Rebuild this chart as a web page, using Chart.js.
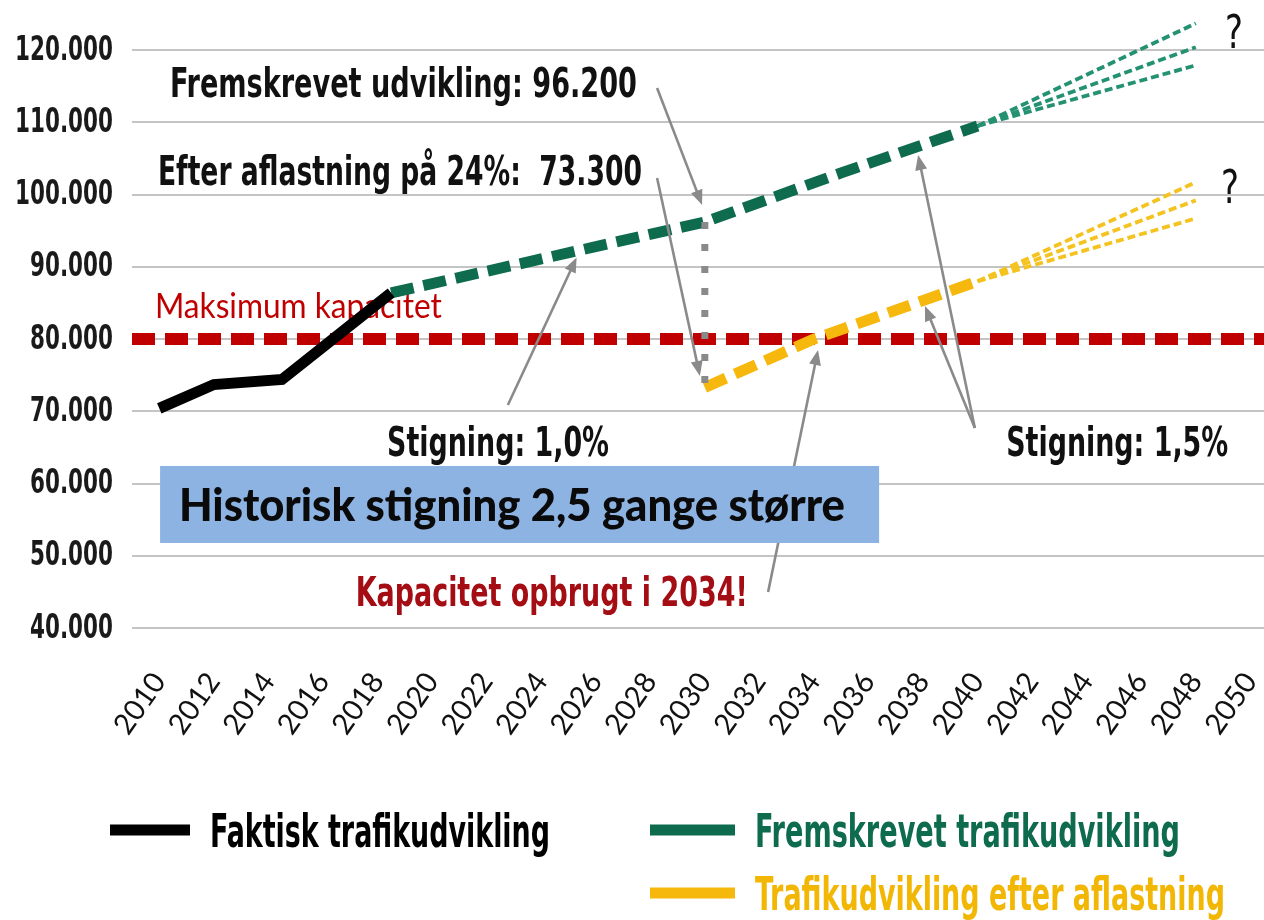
<!DOCTYPE html>
<html>
<head>
<meta charset="utf-8">
<script src="https://cdn.jsdelivr.net/npm/chart.js@4.4.1/dist/chart.umd.min.js"></script>
<style>
  html, body { margin: 0; padding: 0; background: #ffffff; }
  #wrap { position: relative; width: 1264px; height: 920px; }
  canvas { display: block; }
</style>
</head>
<body>
<div id="wrap"><canvas id="chart" width="1264" height="920"></canvas></div>
<script>
// ---------------- DATA ----------------
const seriesLabels = ['Faktisk trafikudvikling', 'Fremskrevet trafikudvikling', 'Trafikudvikling efter aflastning'];

const xTickYears = [2010, 2012, 2014, 2016, 2018, 2020, 2022, 2024, 2026, 2028, 2030,
                    2032, 2034, 2036, 2038, 2040, 2042, 2044, 2046, 2048, 2050];
const yTickValues = [40000, 50000, 60000, 70000, 80000, 90000, 100000, 110000, 120000];

const factualYears  = [2010, 2012, 2014.5, 2018.5];
const factualValues = [70400, 73700, 74400, 86400];

const projectedYears  = [2018.5, 2030, 2035, 2040];
const projectedValues = [86400, 96200, 103000, 109500];

const relievedYears  = [2030, 2034, 2040];
const relievedValues = [73300, 80000, 88000];

const fanYears = [2040, 2048];
const projectedFanHigh = [109500, 123700];
const projectedFanMid  = [109500, 120400];
const projectedFanLow  = [109500, 117900];
const relievedFanHigh  = [88000, 101700];
const relievedFanMid   = [88000, 99200];
const relievedFanLow   = [88000, 96700];

const capacityYears  = [2009, 2050.5];
const capacityValues = [80000, 80000];

const reliefYears  = [2030, 2030];
const reliefValues = [96200, 73300];

// ---------------- STYLE ----------------
const NARROW = '"Liberation Sans Narrow", "Arial Narrow", "DejaVu Sans Condensed", sans-serif';
const COL_BLACK = '#000000';
const COL_GREEN = '#0f6b4d';
const COL_GREEN_FAN = '#249272';
const COL_YELLOW = '#f6b80d';
const COL_YELLOW_FAN = '#f4c320';
const COL_RED = '#c00000';
const COL_GRAY = '#8a8a8a';

function pts(xs, ys) { return xs.map((x, i) => ({ x: x, y: ys[i] })); }
function fmtThousands(v) { return Math.round(v / 1000) + '.000'; }

const datasets = [
  { label: seriesLabels[0], data: pts(factualYears, factualValues), borderColor: COL_BLACK, borderWidth: 11 },
  { label: 'relief', data: pts(reliefYears, reliefValues), borderColor: COL_GRAY, borderWidth: 7, borderDash: [7, 15] },
  { label: seriesLabels[1], data: pts(projectedYears, projectedValues), borderColor: COL_GREEN, borderWidth: 11, borderDash: [23, 10] },
  { label: seriesLabels[2], data: pts(relievedYears, relievedValues), borderColor: COL_YELLOW, borderWidth: 11, borderDash: [23, 10] },
  { label: 'pf1', data: pts(fanYears, projectedFanHigh), borderColor: COL_GREEN_FAN, borderWidth: 3.8, borderDash: [8, 4] },
  { label: 'pf2', data: pts(fanYears, projectedFanMid), borderColor: COL_GREEN_FAN, borderWidth: 3.8, borderDash: [8, 4] },
  { label: 'pf3', data: pts(fanYears, projectedFanLow), borderColor: COL_GREEN_FAN, borderWidth: 3.8, borderDash: [8, 4] },
  { label: 'rf1', data: pts(fanYears, relievedFanHigh), borderColor: COL_YELLOW_FAN, borderWidth: 3.8, borderDash: [8, 4] },
  { label: 'rf2', data: pts(fanYears, relievedFanMid), borderColor: COL_YELLOW_FAN, borderWidth: 3.8, borderDash: [8, 4] },
  { label: 'rf3', data: pts(fanYears, relievedFanLow), borderColor: COL_YELLOW_FAN, borderWidth: 3.8, borderDash: [8, 4] },
  { label: 'Maksimum kapacitet', data: pts(capacityYears, capacityValues), borderColor: COL_RED, borderWidth: 12, borderDash: [23, 10] }
];
datasets.forEach(d => { d.pointRadius = 0; d.tension = 0; d.fill = false; d.borderCapStyle = 'butt'; });

// ---------------- ANNOTATIONS (data coordinates) ----------------
const textNotes = [
  { text: 'Fremskrevet udvikling: 96.200', x: 2010.39, y: 113510, font: 'bold 40px ' + NARROW, color: '#111', width: 467 },
  { text: 'Efter aflastning på 24%:  73.300', x: 2009.95, y: 101330, font: 'bold 40px ' + NARROW, color: '#111', width: 484 },
  { text: 'Maksimum kapacitet', x: 2009.84, y: 82910, font: '35px Lato', color: '#c00000', width: 287 },
  { text: 'Stigning: 1,0%', x: 2018.35, y: 63810, font: 'bold 40px ' + NARROW, color: '#111', width: 222 },
  { text: 'Stigning: 1,5%', x: 2041.05, y: 63810, font: 'bold 40px ' + NARROW, color: '#111', width: 222 },
  { text: 'Kapacitet opbrugt i 2034!', x: 2017.2, y: 43040, font: 'bold 40px ' + NARROW, color: '#a50d14', width: 392 },
  { text: '?', x: 2049.4, y: 120290, font: '46px ' + NARROW, color: '#111', center: true, width: 18 },
  { text: '?', x: 2049.25, y: 98835, font: '46px ' + NARROW, color: '#111', center: true, width: 18 }
];
const arrows = [
  { x1: 2028.25, y1: 114760, x2: 2029.90, y2: 98560 },
  { x1: 2028.25, y1: 102300, x2: 2029.82, y2: 74890 },
  { x1: 2022.78, y1: 70870, x2: 2025.30, y2: 91300 },
  { x1: 2032.32, y1: 44980, x2: 2034.15, y2: 78480 },
  { x1: 2039.90, y1: 67690, x2: 2037.82, y2: 105480 },
  { x1: 2039.90, y1: 67690, x2: 2038.07, y2: 84580 }
];
const infoBox = { x1: 2010.03, x2: 2036.39, y1: 62430, y2: 51770, fill: '#8db3e2',
  text: 'Historisk stigning 2,5 gange større', tx: 2010.72, ty: 54810, font: '900 45px Lato', color: '#0a0a0a', width: 666 };

const yLabelStyle = { font: 'bold 33px ' + NARROW, color: '#1a1a1a', right: 113, sample: '120.000', sampleWidth: 98 };

const legendItems = [
  { label: seriesLabels[0], color: COL_BLACK, textColor: '#000000', sx: 110, sw: 80, sy: 830, tx: 210, tw: 340, ty: 847 },
  { label: seriesLabels[1], color: COL_GREEN, textColor: COL_GREEN, sx: 650, sw: 85, sy: 830, tx: 755, tw: 425, ty: 847 },
  { label: seriesLabels[2], color: COL_YELLOW, textColor: '#f2b705', sx: 650, sw: 85, sy: 893, tx: 755, tw: 470, ty: 910 }
];

function drawFitted(ctx, text, x, y, font, color, width, center) {
  ctx.save();
  ctx.font = font;
  ctx.fillStyle = color;
  ctx.textBaseline = 'alphabetic';
  ctx.textAlign = 'left';
  const w = ctx.measureText(text).width;
  const s = width ? width / w : 1;
  ctx.translate(x, y);
  ctx.scale(s, 1);
  ctx.fillText(text, center ? -w / 2 : 0, 0);
  ctx.restore();
}

function drawArrow(ctx, x1, y1, x2, y2) {
  const a = Math.atan2(y2 - y1, x2 - x1);
  const L = 15, W = 6;
  ctx.beginPath();
  ctx.moveTo(x1, y1);
  ctx.lineTo(x2 - (L - 2) * Math.cos(a), y2 - (L - 2) * Math.sin(a));
  ctx.stroke();
  ctx.beginPath();
  ctx.moveTo(x2, y2);
  ctx.lineTo(x2 - L * Math.cos(a) + W * Math.sin(a), y2 - L * Math.sin(a) - W * Math.cos(a));
  ctx.lineTo(x2 - L * Math.cos(a) - W * Math.sin(a), y2 - L * Math.sin(a) + W * Math.cos(a));
  ctx.closePath();
  ctx.fill();
}

const notesPlugin = {
  id: 'notes',
  beforeDatasetsDraw(chart) {
    const ctx = chart.ctx, xs = chart.scales.x, ys = chart.scales.y;
    textNotes.forEach(n => drawFitted(ctx, n.text, xs.getPixelForValue(n.x), ys.getPixelForValue(n.y), n.font, n.color, n.width, n.center));
  },
  afterDatasetsDraw(chart) {
    const ctx = chart.ctx, xs = chart.scales.x, ys = chart.scales.y;
    ctx.save();
    ctx.strokeStyle = COL_GRAY;
    ctx.fillStyle = COL_GRAY;
    ctx.lineWidth = 2.6;
    arrows.forEach(a => drawArrow(ctx, xs.getPixelForValue(a.x1), ys.getPixelForValue(a.y1), xs.getPixelForValue(a.x2), ys.getPixelForValue(a.y2)));
    ctx.restore();
    const bx1 = xs.getPixelForValue(infoBox.x1), bx2 = xs.getPixelForValue(infoBox.x2);
    const by1 = ys.getPixelForValue(infoBox.y1), by2 = ys.getPixelForValue(infoBox.y2);
    ctx.save();
    ctx.fillStyle = infoBox.fill;
    ctx.fillRect(bx1, by1, bx2 - bx1, by2 - by1);
    ctx.restore();
    drawFitted(ctx, infoBox.text, xs.getPixelForValue(infoBox.tx), ys.getPixelForValue(infoBox.ty), infoBox.font, infoBox.color, infoBox.width);
  },
  afterDraw(chart) {
    const ctx = chart.ctx, ys = chart.scales.y;
    // y-axis tick labels, taken from the scale's own ticks, drawn condensed
    ctx.save();
    ctx.font = yLabelStyle.font;
    const sx = yLabelStyle.sampleWidth / ctx.measureText(yLabelStyle.sample).width;
    ctx.fillStyle = yLabelStyle.color;
    ctx.textAlign = 'right';
    ctx.textBaseline = 'middle';
    ys.ticks.forEach(t => {
      const py = ys.getPixelForValue(t.value);
      ctx.save();
      ctx.translate(yLabelStyle.right, py + 1);
      ctx.scale(sx, 1);
      ctx.fillText(fmtThousands(t.value), 0, 0);
      ctx.restore();
    });
    ctx.restore();
    legendItems.forEach(it => {
      ctx.save();
      ctx.fillStyle = it.color;
      ctx.fillRect(it.sx, it.sy - 5.5, it.sw, 11);
      ctx.restore();
      drawFitted(ctx, it.label, it.tx, it.ty, 'bold 46px ' + NARROW, it.textColor, it.tw);
    });
  }
};

new Chart(document.getElementById('chart'), {
  type: 'line',
  data: { datasets: datasets },
  options: {
    responsive: false,
    animation: false,
    layout: { padding: { top: 14, left: 0, right: 0, bottom: 0 } },
    scales: {
      x: {
        type: 'linear', min: 2009, max: 2050.5,
        grid: { display: false, drawTicks: false },
        border: { display: false },
        afterBuildTicks: s => { s.ticks = xTickYears.map(v => ({ value: v })); },
        afterFit: s => { s.height = 292; s.paddingLeft = 0; s.paddingRight = 0; },
        ticks: {
          autoSkip: false, minRotation: 55, maxRotation: 55, padding: 38,
          color: '#111', font: { family: 'Lato', size: 29 },
          callback: v => String(v)
        }
      },
      y: {
        type: 'linear', min: 40000, max: 125000,
        grid: { color: '#c4c4c4', lineWidth: 2, drawTicks: false },
        border: { display: false },
        afterBuildTicks: s => { s.ticks = yTickValues.map(v => ({ value: v })); },
        afterFit: s => { s.width = 132; s.paddingTop = 0; s.paddingBottom = 0; },
        ticks: { display: false }
      }
    },
    plugins: { legend: { display: false }, tooltip: { enabled: false } }
  },
  plugins: [notesPlugin]
});
</script>
</body>
</html>
